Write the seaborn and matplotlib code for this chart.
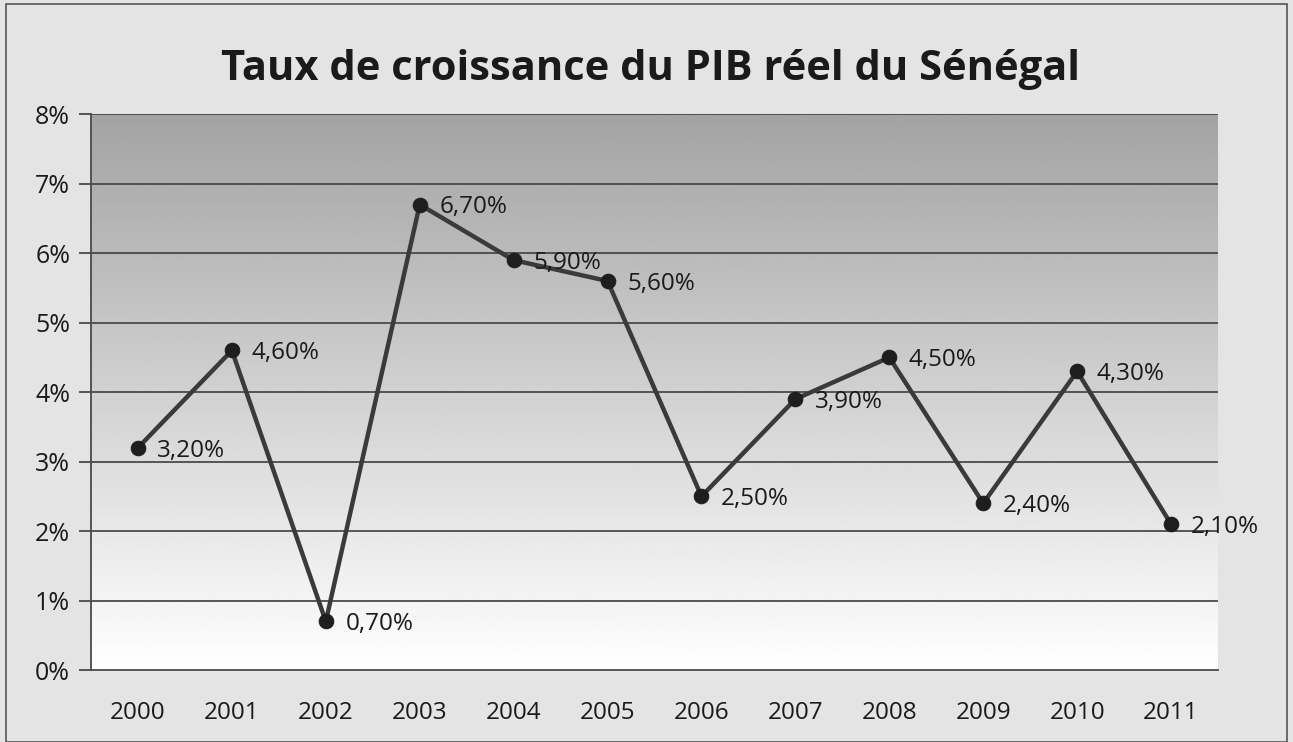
import matplotlib
matplotlib.use("Agg")
import matplotlib.pyplot as plt
from matplotlib.patches import Rectangle
import numpy as np
import pandas as pd
import seaborn as sns

# ── Data ─────────────────────────────────────────────────────────────────────
years = ["2000", "2001", "2002", "2003", "2004", "2005",
         "2006", "2007", "2008", "2009", "2010", "2011"]
growth = [3.2, 4.6, 0.7, 6.7, 5.9, 5.6, 2.5, 3.9, 4.5, 2.4, 4.3, 2.1]
y_ticks = [0, 1, 2, 3, 4, 5, 6, 7, 8]

df = pd.DataFrame({"pos": np.arange(len(years)), "growth": growth})

sns.set_theme(style="white")
plt.rcParams["font.family"] = ["Open Sans", "DejaVu Sans"]

fig = plt.figure(figsize=(12.93, 7.42), dpi=100)
fig.patch.set_facecolor("#e4e4e4")
fig.add_artist(Rectangle((0.005, 0.0), 0.99, 0.995, transform=fig.transFigure,
                         fill=False, edgecolor="#555555", linewidth=1.2))

ax = fig.add_axes([0.0704, 0.097, 0.8716, 0.749])
ax.set_xlim(-0.5, len(years) - 0.5)
ax.set_ylim(0, 8)

# plot area gradient: white at the bottom, darkening to grey at the top
grad = np.linspace(1.0, 0.64, 256).reshape(-1, 1)
ax.imshow(grad, cmap="gray", vmin=0, vmax=1, aspect="auto", origin="lower",
          extent=[0, 1, 0, 1], transform=ax.transAxes, zorder=0)

for t in y_ticks[1:]:
    ax.axhline(t, color="#4a4a4a", linewidth=1.3, zorder=1)

sns.lineplot(data=df, x="pos", y="growth", ax=ax, color="#3a3a3a",
             linewidth=3.2, marker="o", markersize=10.5,
             markerfacecolor="#1e1e1e", markeredgecolor="#1e1e1e", zorder=3)

for x, v in zip(df["pos"], growth):
    ax.annotate(f"{v:.2f}%".replace(".", ","), (x, v), xytext=(14, -2),
                textcoords="offset points", ha="left", va="center",
                fontsize=17.5, color="#1a1a1a", zorder=4)

ax.set_yticks(y_ticks)
ax.set_yticklabels([f"{t}%" for t in y_ticks], fontsize=18, color="#1a1a1a")
ax.set_xticks(df["pos"])
ax.set_xticklabels(years, fontsize=17.5, color="#1a1a1a")
ax.set_xticks(np.arange(-0.5, len(years), 1.0), minor=True)
ax.tick_params(axis="x", which="major", length=0, pad=22)
ax.tick_params(axis="x", which="minor", length=7, width=1.3, color="#4a4a4a",
               direction="out")
ax.tick_params(axis="y", length=9, width=1.3, color="#4a4a4a", pad=6,
               direction="out", left=True)
ax.set_xlabel("")
ax.set_ylabel("")

for side in ["top", "right"]:
    ax.spines[side].set_visible(False)
for side in ["left", "bottom"]:
    ax.spines[side].set_color("#4a4a4a")
    ax.spines[side].set_linewidth(1.3)

fig.text(0.503, 0.906, "Taux de croissance du PIB réel du Sénégal",
         ha="center", va="center", fontsize=30, fontweight="bold",
         color="#1a1a1a")

fig.savefig("out.png", dpi=100, facecolor=fig.get_facecolor())
